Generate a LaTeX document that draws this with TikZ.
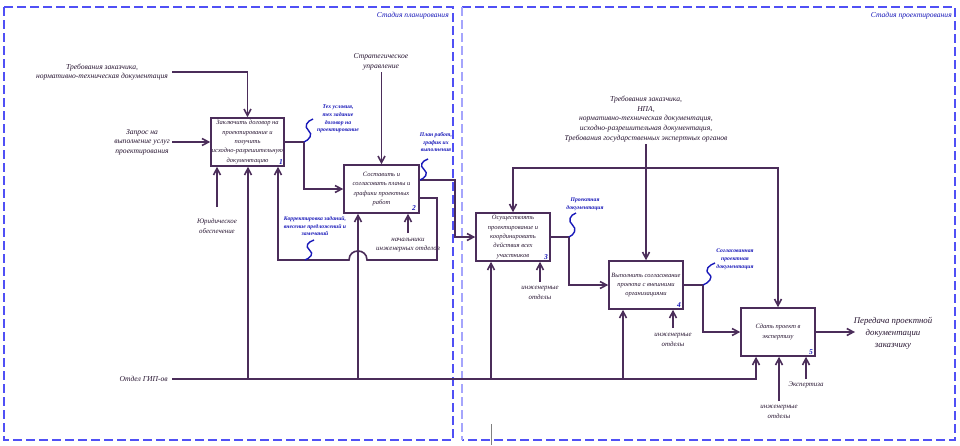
\documentclass[tikz,border=0pt]{standalone}
\usepackage{fontspec}
\setmainfont{Liberation Serif}
\usetikzlibrary{arrows.meta,calc}
\definecolor{linec}{RGB}{75,45,90}
\definecolor{txtc}{RGB}{40,22,50}
\definecolor{bluec}{RGB}{25,25,185}
\definecolor{framec}{RGB}{80,80,245}
\definecolor{framel}{RGB}{165,165,252}
\begin{document}
\begin{tikzpicture}[x=1pt,y=-1pt,
 conn/.style={draw=linec, line width=1.6pt},
 arr/.style={conn, -{Straight Barb[length=6.5pt,width=7pt]}},
 act/.style={draw=linec, line width=1.6pt, fill=white, minimum height=48pt, inner sep=0.5pt, align=center, font=\fontsize{6.5}{9.4}\selectfont\itshape, text=txtc},
 lbl/.style={font=\fontsize{6.9}{9.4}\selectfont\itshape, text=txtc, align=center, inner sep=0pt},
 lblL/.style={font=\fontsize{7.6}{9.6}\selectfont\itshape, text=txtc, align=center, inner sep=0pt},
 biglbl/.style={font=\fontsize{8.8}{12}\selectfont\itshape, text=txtc, align=center, inner sep=0pt},
 blbl/.style={font=\fontsize{5.7}{7.8}\selectfont\itshape\bfseries, text=bluec, align=center, inner sep=0pt},
 ttl/.style={font=\fontsize{7.6}{8}\selectfont\itshape, text=bluec, inner sep=0pt},
 num/.style={font=\fontsize{7.5}{8}\selectfont\itshape\bfseries, text=bluec, inner sep=0pt},
 squig/.style={draw=bluec, line width=1.4pt},
 frame/.style={draw=framec, line width=1.3pt, dash pattern=on 9pt off 4pt},
]
\useasboundingbox (0,0) rectangle (960,445);
\fill[white] (0,0) rectangle (960,445);

% frames
\draw[frame] (4,7) rectangle (453,440);
\draw[frame] (462,7) -- (955,7) -- (955,440) -- (462,440);
\draw[draw=framel, line width=2.2pt, dash pattern=on 9pt off 4pt] (462,7) -- (462,440);
\node[ttl, anchor=east] (t1) at (449,16) {Стадия планирования};
\node[ttl, anchor=east] (t2) at (952,16) {Стадия проектирования};

% activity boxes
\node[act, minimum width=73pt] (b1) at (247.5,142) {Заключить договор на\\ проектирование и\\ получить\\ исходно-разрешительную\\ документацию};
\node[act, minimum width=75pt] (b2) at (381.5,189) {Составить и\\ согласовать планы и\\ графики проектных\\ работ};
\node[act, minimum width=74pt] (b3) at (513,237) {Осуществлять\\ проектирование и\\ координировать\\ действия всех\\ участников};
\node[act, minimum width=74pt] (b4) at (646,285) {Выполнить согласование\\ проекта с внешними\\ организациями};
\node[act, minimum width=74pt] (b5) at (778,332) {Сдать проект в\\ экспертизу};
\node[num] (n1) at (281,162) {1};
\node[num] (n2) at (414,208) {2};
\node[num] (n3) at (546,257) {3};
\node[num] (n4) at (679,305) {4};
\node[num] (n5) at (811,352) {5};

% box 1 control and input and mechanisms
\node[lblL] (c1t) at (102,72) {Требования заказчика,\\ нормативно-техническая документация};
\coordinate (c1s) at (172,72);
\draw[arr] (c1s) -| (b1.north);
\node[lblL] (i1t) at (142,142) {Запрос на\\ выполнение услуг\\ проектирования};
\coordinate (i1s) at (172,142);
\draw[arr] (i1s) -- (b1.west);
\node[lbl] (m1t) at (217,226) {Юридическое\\ обеспечение};
\coordinate (m1s) at (217,207);
\draw[arr] (m1s) -- (m1s |- b1.south);

% GIP line
\node[lblL, anchor=east] (gip) at (168,379) {Отдел ГИП-ов};
\coordinate (g0) at (172,379);
\coordinate (g1) at (248,379);
\coordinate (g2) at (358,379);
\coordinate (g3) at (491,379);
\coordinate (g4) at (623,379);
\coordinate (g5) at (756,379);
\draw[arr] (g0) -| (g5 |- b5.south);
\draw[arr] (g1) -- (g1 |- b1.south);
\draw[arr] (g2) -- (g2 |- b2.south);
\draw[arr] (g3) -- (g3 |- b3.south);
\draw[arr] (g4) -- (g4 |- b4.south);

% box 1 output -> box 2
\coordinate (o1) at (304,142);
\draw[arr] (b1.east) -- (o1) |- (b2.west);
\node[blbl] (l1) at (338,119) {Тех условия,\\ тех задание\\ договор на\\ проектирование};
\draw[squig] (313,119) .. controls +(-6,2) and +(-5,-4) .. ($(313,119)!0.5!(o1)$) .. controls +(5,4) and +(5,-2) .. (o1);

% box 2 control, mechanism
\node[lblL] (c2t) at (381,62) {Стратегическое\\ управление};
\coordinate (c2s) at (381.5,72);
\draw[arr] (c2s) -- (b2.north);
\node[lbl] (m2t) at (408,245) {начальники\\ инженерных отделов};
\coordinate (m2s) at (408,233);
\draw[arr] (m2s) -- (m2s |- b2.south);

% box 2 feedback -> box 1
\coordinate (f1) at (437,198);
\coordinate (f2) at (437,260);
\coordinate (fb1) at (367,260);
\coordinate (fb2) at (349,260);
\coordinate (f3) at (278,260);
\draw[arr] (b2.east |- f1) -- (f1) -- (f2) -- (fb1) .. controls (367,248) and (349,248) .. (fb2) -- (f3) -- (f3 |- b1.south);
\node[blbl] (l3) at (315,226) {Корректировка заданий,\\ внесение предложений и\\ замечаний};
\coordinate (s3) at (314,240);
\coordinate (e3) at (305,260);
\draw[squig] (s3) .. controls +(-6,2) and +(-5,-4) .. ($(s3)!0.5!(e3)$) .. controls +(5,4) and +(5,-2) .. (e3);

% box 2 output -> box 3
\coordinate (o2) at (455,180);
\draw[arr] (b2.east |- o2) -- (o2) |- (b3.west);
\node[blbl] (l2) at (436,142) {План работ,\\ график их\\ выполнения};
\coordinate (s2) at (428,159);
\coordinate (e2) at (420,180);
\draw[squig] (s2) .. controls +(-6,2) and +(-5,-4) .. ($(s2)!0.5!(e2)$) .. controls +(5,4) and +(5,-2) .. (e2);

% right-hand controls
\node[lblL] (req) at (646,119) {Требования заказчика,\\ НПА,\\ нормативно-техническая документация,\\ исходно-разрешительная документация,\\ Требования государственных экспертных органов};
\coordinate (c3s) at (646,144);
\coordinate (cj) at (646,168);
\draw[conn] (c3s) -- (cj);
\draw[arr] (cj) -- (b4.north);
\draw[arr] (cj) -| (b3.north);
\draw[arr] (cj) -| (b5.north);

% box 3 output -> box 4
\coordinate (o3) at (569,237);
\draw[arr] (b3.east) -- (o3) |- (b4.west);
\node[blbl] (l4) at (585,204) {Проектная\\ документация};
\coordinate (s4) at (576,213);
\draw[squig] (s4) .. controls +(-6,2) and +(-5,-4) .. ($(s4)!0.5!(o3)$) .. controls +(5,4) and +(5,-2) .. (o3);
\node[lbl] (m3t) at (540,293) {инженерные\\ отделы};
\coordinate (m3s) at (540,282);
\draw[arr] (m3s) -- (m3s |- b3.south);

% box 4 output -> box 5
\coordinate (o4) at (703,285);
\draw[arr] (b4.east) -- (o4) |- (b5.west);
\node[blbl] (l5) at (735,259) {Согласованная\\ проектная\\ документация};
\coordinate (s5) at (715,263);
\draw[squig] (s5) .. controls +(-6,2) and +(-5,-4) .. ($(s5)!0.5!(o4)$) .. controls +(5,4) and +(5,-2) .. (o4);
\node[lbl] (m4t) at (673,340) {инженерные\\ отделы};
\coordinate (m4s) at (673,328);
\draw[arr] (m4s) -- (m4s |- b4.south);

% box 5 mechanisms and output
\node[lbl] (m5t) at (779,412) {инженерные\\ отделы};
\coordinate (m5s) at (779,401);
\draw[arr] (m5s) -- (m5s |- b5.south);
\node[lbl] (m6t) at (806,385) {Экспертиза};
\coordinate (m6s) at (806,379);
\draw[arr] (m6s) -- (m6s |- b5.south);
\coordinate (o5) at (855,332);
\draw[arr] (b5.east) -- (o5);
\node[biglbl] (outt) at (893,333) {Передача проектной\\ документации\\ заказчику};

% cursor mark
\draw[gray, line width=0.6pt] (491,424) -- (491,445);
\end{tikzpicture}
\end{document}
